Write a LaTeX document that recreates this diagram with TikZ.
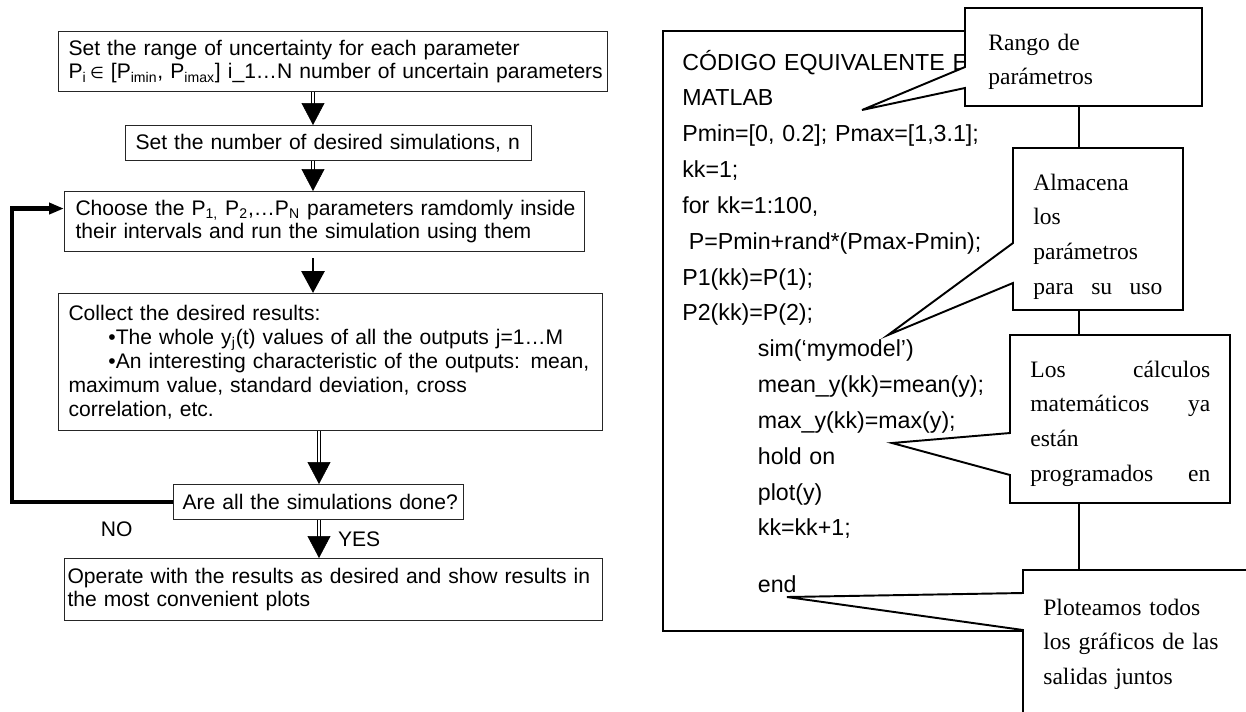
\documentclass[tikz,border=0pt]{standalone}
\usepackage{fontspec}
\setmainfont{Liberation Sans}
\newfontfamily\notefont{Liberation Serif}
\newfontfamily\symfont{DejaVu Sans}
\usetikzlibrary{arrows.meta,positioning}

\begin{document}
\begin{tikzpicture}[x=0.02cm,y=-0.02cm,
 flowbox/.style={draw=black!85,line width=0.6pt,anchor=north west,align=left,
   inner ysep=0pt,font=\fontsize{12}{13.6}\selectfont},
 dblarrow/.style={draw=white,line width=0.3pt,
   -{Triangle[width=0.46cm,length=0.44cm,color=black]},
   preaction={draw=black,-,double=white,double distance=1.3pt,line width=0.75pt,
     shorten >=0.42cm}},
 thickarrow/.style={line width=1.7pt,-{Triangle[width=0.46cm,length=0.44cm]}},
 backloop/.style={line width=2.8pt,-{Triangle[width=0.22cm,length=0.3cm]}},
 codetext/.style={inner sep=0pt,anchor=base west,align=left,
   font=\fontsize{13.2}{20.4}\selectfont},
 callout/.style={draw,fill=white,line width=1.1pt},
 note/.style={inner sep=0pt,anchor=base west,align=left,
   font=\notefont\fontsize{13.4}{19.8}\selectfont}]
    \useasboundingbox (0,0) rectangle (1246,711);
    \clip (0,0) rectangle (1246,711);
    % flow chart
    \node[flowbox,text width=10.58cm,inner xsep=0.2cm,minimum height=1.2cm] (range) at (58,31)
        {\mbox{Set the range of uncertainty for each parameter}\\
         \mbox{P\textsubscript{i}\,{\symfont\small ∈} [P\textsubscript{imin}, P\textsubscript{imax}] i\_1…N number of uncertain parameters}};
    \node[flowbox,text width=7.72cm,inner xsep=0.2cm,minimum height=0.7cm] (number) at (125,125)
        {\mbox{Set the number of desired simulations, n}};
    \node[flowbox,text width=9.96cm,inner xsep=0.22cm,minimum height=1.2cm] (choose) at (64,191)
        {\mbox{Choose the P\textsubscript{1,} P\textsubscript{2},…P\textsubscript{N} parameters ramdomly inside}\\
         their intervals and run the simulation using them};
    \node[flowbox,text width=10.48cm,inner xsep=0.2cm,minimum height=2.74cm] (collect) at (58,293)
        {Collect the desired results:\\
         \mbox{\hspace*{22.7pt}•The whole y\textsubscript{j}(t) values of all the outputs j=1…M}\\
         \mbox{\hspace*{22.7pt}•An interesting characteristic of the outputs: mean,}\\
         maximum value, standard deviation, cross\\
         correlation, etc.};
    \node[flowbox,text width=5.44cm,inner xsep=0.18cm,minimum height=0.7cm] (done) at (173,484)
        {\mbox{Are all the simulations done?}};
    \node[flowbox,text width=10.64cm,inner xsep=0.06cm,minimum height=1.24cm] (operate) at (64,558)
        {\mbox{Operate with the results as desired and show results in}\\
         the most convenient plots};
    \coordinate (axis) at (313,0);
    \coordinate (axisb) at (319,0);
    \coordinate (back) at (12,0);
    \coordinate (entry) at ([yshift=0.26cm]choose.west);
    \draw[dblarrow] (range.south -| axis) -- (number.north -| axis);
    \draw[dblarrow] (number.south -| axis) -- (choose.north -| axis);
    \draw[thickarrow,shorten <=0.12cm] (choose.south -| axis) -- (collect.north -| axis);
    \draw[dblarrow] (collect.south -| axisb) -- (done.north -| axisb);
    \draw[dblarrow] (done.south -| axisb) -- node[right=0.26cm,font=\fontsize{12}{14}\selectfont]{YES}
        (operate.north -| axisb);
    \draw[backloop] (done.west) -- node[pos=0.35,below=0.22cm,font=\fontsize{12}{14}\selectfont]{NO}
        (done.west -| back) |- (entry);
    % matlab code
    \node[draw,line width=1.1pt,anchor=north west,minimum width=8.32cm,minimum height=12cm]
        (codebox) at (662,30) {};
    \node[codetext,text width=8cm] (code) at (682,70)
        {CÓDIGO EQUIVALENTE EN\\
         MATLAB\\
         Pmin=[0, 0.2]; Pmax=[1,3.1];\\
         kk=1;\\
         for kk=1:100,\\
         \hspace*{0.28em}P=Pmin+rand*(Pmax-Pmin);\\
         P1(kk)=P(1);\\
         P2(kk)=P(2);\\
         \hspace*{43pt}sim(‘mymodel’)\\
         \hspace*{43pt}mean\_y(kk)=mean(y);\\
         \hspace*{43pt}max\_y(kk)=max(y);\\
         \hspace*{43pt}hold on\\
         \hspace*{43pt}plot(y)\\
         \hspace*{43pt}kk=kk+1;\\[12pt]
         \hspace*{43pt}end};
    % callouts
    \draw[callout] (965,8) -- (1202,8) -- (1202,106) -- (965,106) -- (965,88)
        -- (862,110) -- (965,67) -- cycle;
    \draw[callout] (1013,148) -- (1183,148) -- (1183,310) -- (1013,310) -- (1013,283)
        -- (888,335) -- (1013,243) -- cycle;
    \draw[callout] (1010,335) -- (1230,335) -- (1230,503) -- (1010,503) -- (1010,475)
        -- (892,443) -- (1010,433) -- cycle;
    \draw[callout] (1023,570) -- (1270,570) -- (1270,740) -- (1023,740) -- (1023,630)
        -- (787,597) -- (1023,593) -- cycle;
    \node[note,text width=4cm] (rango) at (988,50) {Rango de\\parámetros};
    \node[note,text width=2.58cm] (store) at (1033,190)
        {Almacena\\los\\parámetros\\para\hfill su\hfill uso};
    \node[note,text width=3.6cm] (calc) at (1030,377)
        {Los\hfill cálculos\\matemáticos\hfill ya\\están\\programados\hfill en};
    \node[note,text width=4cm] (plots) at (1043,615)
        {Ploteamos todos\\los gráficos de las\\salidas juntos};
\end{tikzpicture}
\end{document}
